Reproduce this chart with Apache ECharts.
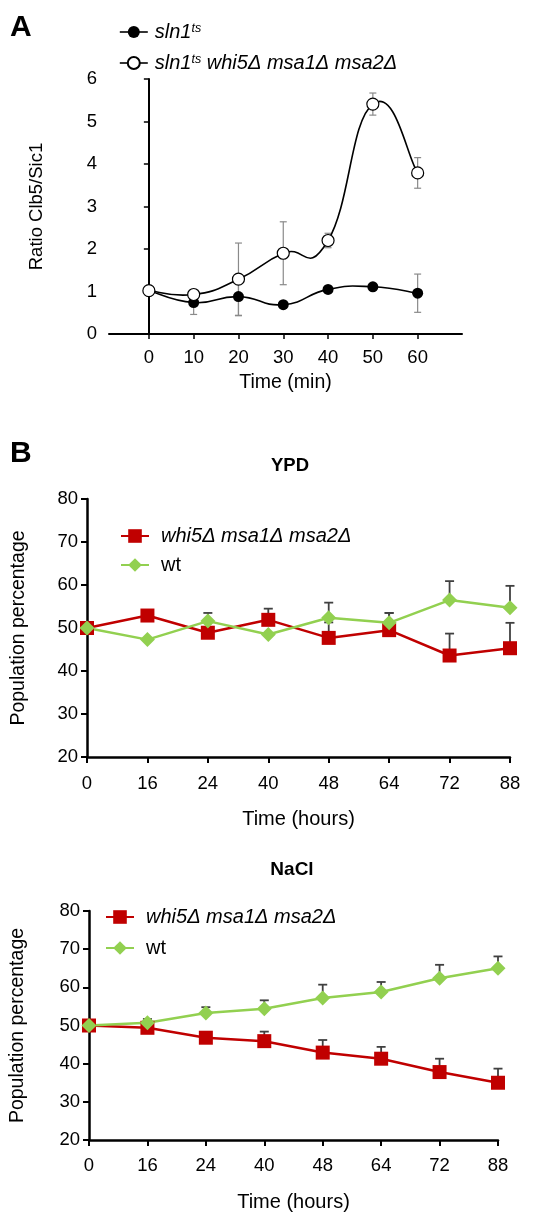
<!DOCTYPE html>
<html>
<head>
<meta charset="utf-8">
<script src="https://cdn.jsdelivr.net/npm/echarts@6/dist/echarts.min.js"></script>
<style>
  html, body { margin: 0; padding: 0; background: #fff; }
  #chart { width: 553px; height: 1213px; }
</style>
</head>
<body>
<div id="chart"></div>
<script>
// panel A: Clb5/Sic1 ratio
const timeMin = [0, 10, 20, 30, 40, 50, 60];
const sln1 = [1.02, 0.74, 0.88, 0.69, 1.05, 1.11, 0.96];
const sln1Err = [0, 0.28, 0.45, 0, 0, 0, 0.45];
const sln1Mut = [1.02, 0.93, 1.29, 1.90, 2.20, 5.41, 3.79];
const sln1MutErr = [0, 0, 0.85, 0.74, 0.17, 0.26, 0.36];

// panel B: population percentage
const hours = ["0", "16", "24", "40", "48", "64", "72", "88"];
const ypdMut = [50, 52.9, 48.9, 51.9, 47.7, 49.5, 43.6, 45.3];
const ypdMutErr = [0, 0, 0, 2.6, 3.6, 4.0, 5.1, 5.9];
const ypdWt = [50, 47.3, 51.6, 48.5, 52.4, 51.2, 56.5, 54.7];
const ypdWtErr = [0, 0, 1.9, 0, 3.5, 2.3, 4.4, 5.1];
const naclMut = [50, 49.4, 46.8, 45.9, 42.9, 41.3, 37.8, 35.0];
const naclMutErr = [0, 0, 0, 2.5, 3.3, 3.1, 3.5, 3.7];
const naclWt = [50, 50.7, 53.3, 54.4, 57.2, 58.8, 62.4, 65.0];
const naclWtErr = [0, 1.0, 1.5, 2.2, 3.5, 2.6, 3.5, 3.1];

const MUT = "whi5Δ msa1Δ msa2Δ";
const SLN = "sln1ts";
const SLN_MUT = "sln1ts whi5Δ msa1Δ msa2Δ";
const FONT = "'Liberation Sans', Arial, sans-serif";
const RED = "#c00000";
const GREEN = "#92d050";

function errorBars(idx, xs, ys, errs, both, color, width, cap) {
  return {
    type: "custom",
    xAxisIndex: idx,
    yAxisIndex: idx,
    z: 1,
    silent: true,
    data: xs.map((x, i) => [x, ys[i], errs[i]]),
    renderItem(params, api) {
      const x = api.value(0), y = api.value(1), e = api.value(2);
      if (!e) return;
      const top = api.coord([x, y + e]);
      const bot = api.coord([x, both ? y - e : y]);
      const style = { stroke: color, lineWidth: width };
      const kids = [
        { type: "line", shape: { x1: top[0], y1: top[1], x2: bot[0], y2: bot[1] }, style },
        { type: "line", shape: { x1: top[0] - cap, y1: top[1], x2: top[0] + cap, y2: top[1] }, style },
      ];
      if (both) {
        kids.push({ type: "line", shape: { x1: bot[0] - cap, y1: bot[1], x2: bot[0] + cap, y2: bot[1] }, style });
      }
      return { type: "group", children: kids };
    },
  };
}

// spreadsheet-style smoothed line: one bezier per segment, tangents from neighbours
function smoothCurve(xs, ys, k) {
  const n = xs.length;
  return {
    type: "custom",
    xAxisIndex: 0,
    yAxisIndex: 0,
    z: 2,
    silent: true,
    data: xs.map((x, i) => [x, ys[i]]),
    renderItem(params, api) {
      const i = params.dataIndex;
      if (i >= n - 1) return;
      const pt = (j) => {
        j = Math.max(0, Math.min(n - 1, j));
        return api.coord([xs[j], ys[j]]);
      };
      const p0 = pt(i - 1), p1 = pt(i), p2 = pt(i + 1), p3 = pt(i + 2);
      return {
        type: "bezierCurve",
        shape: {
          x1: p1[0], y1: p1[1],
          x2: p2[0], y2: p2[1],
          cpx1: p1[0] + (p2[0] - p0[0]) * k, cpy1: p1[1] + (p2[1] - p0[1]) * k,
          cpx2: p2[0] - (p3[0] - p1[0]) * k, cpy2: p2[1] - (p3[1] - p1[1]) * k,
        },
        style: { stroke: "#000", lineWidth: 1.6, fill: null },
      };
    },
  };
}

const axisLine = { lineStyle: { color: "#000", width: 2.5 } };
const tick = { show: true, length: 6, lineStyle: { color: "#000", width: 2 } };
const label = { color: "#000", fontSize: 18.5, fontFamily: FONT };
const nameStyle = { color: "#000", fontSize: 19.5, fontFamily: FONT };

function catX(idx, gap, nameGap) {
  return {
    gridIndex: idx,
    type: "category",
    data: hours,
    boundaryGap: false,
    axisLine,
    axisTick: { ...tick, alignWithLabel: true },
    axisLabel: { ...label, margin: gap },
    name: "Time (hours)",
    nameLocation: "middle",
    nameGap,
    nameTextStyle: { ...nameStyle, fontSize: 20 },
  };
}

function popY(idx, nameGap) {
  return {
    gridIndex: idx,
    type: "value",
    min: 20,
    max: 80,
    interval: 10,
    axisLine: { show: true, ...axisLine },
    axisTick: tick,
    axisLabel: { ...label, margin: 9 },
    splitLine: { show: false },
    name: "Population percentage",
    nameLocation: "middle",
    nameGap,
    nameTextStyle: nameStyle,
  };
}

function legendB(left, top, gap) {
  return {
    data: [MUT, "wt"],
    orient: "vertical",
    left,
    top,
    padding: 0,
    itemGap: gap,
    itemWidth: 28,
    itemHeight: 17,
    selectedMode: false,
    formatter: (n) => (n === "wt" ? "{n|wt}" : "{i|" + n + "}"),
    textStyle: {
      padding: [0, 0, 0, 7],
      rich: {
        i: { fontSize: 20, fontStyle: "italic", fontFamily: FONT, color: "#000" },
        n: { fontSize: 20, fontFamily: FONT, color: "#000" },
      },
    },
  };
}

function lineB(idx, name, data, color, symbol, size) {
  return {
    name,
    type: "line",
    xAxisIndex: idx,
    yAxisIndex: idx,
    data,
    z: 3,
    symbol,
    symbolSize: size,
    lineStyle: { color, width: 2.5 },
    itemStyle: { color },
  };
}

const chart = echarts.init(document.getElementById("chart"));
chart.setOption({
  animation: false,
  backgroundColor: "#fff",
  textStyle: { fontFamily: FONT },
  title: [
    { text: "A", left: 10, top: 13, padding: 0, textStyle: { fontSize: 30, fontWeight: "bold", color: "#000", fontFamily: FONT } },
    { text: "B", left: 10, top: 439, padding: 0, textStyle: { fontSize: 30, fontWeight: "bold", color: "#000", fontFamily: FONT } },
    { text: "YPD", left: 290, top: 456, textAlign: "center", padding: 0, textStyle: { fontSize: 18.5, fontWeight: "bold", color: "#000", fontFamily: FONT } },
    { text: "NaCl", left: 292, top: 860, textAlign: "center", padding: 0, textStyle: { fontSize: 19, fontWeight: "bold", color: "#000", fontFamily: FONT } },
  ],
  legend: [
    {
      data: [SLN, SLN_MUT],
      orient: "vertical",
      left: 119,
      top: 22,
      padding: 0,
      itemGap: 11,
      itemWidth: 28,
      itemHeight: 15,
      selectedMode: false,
      lineStyle: { opacity: 1, color: "#000", width: 1.6 },
      formatter: (n) => (n === SLN ? "{i|sln1}{s|ts}" : "{i|sln1}{s|ts}{i| whi5Δ msa1Δ msa2Δ}"),
      textStyle: {
        padding: [0, 0, 0, 2],
        rich: {
          i: { fontSize: 20, fontStyle: "italic", fontFamily: FONT, color: "#000" },
          s: { fontSize: 12.5, fontStyle: "italic", fontFamily: FONT, color: "#000", verticalAlign: "top" },
        },
      },
    },
    legendB(120, 526, 9),
    legendB(105, 907, 11),
  ],
  grid: [
    { left: 109, top: 79, width: 353, height: 255 },
    { left: 87, top: 499, width: 423, height: 258 },
    { left: 88, top: 911, width: 410, height: 230 },
  ],
  xAxis: [
    {
      gridIndex: 0,
      type: "value",
      min: -8.9,
      max: 69.9,
      axisLine: { lineStyle: { color: "#000", width: 2 } },
      axisTick: { show: true, customValues: timeMin, length: 5, lineStyle: { color: "#000", width: 1.5 } },
      axisLabel: { ...label, customValues: timeMin, margin: 14 },
      splitLine: { show: false },
      name: "Time (min)",
      nameLocation: "middle",
      nameGap: 39,
      nameTextStyle: nameStyle,
    },
    catX(1, 17, 52),
    catX(2, 16, 52),
  ],
  yAxis: [
    {
      gridIndex: 0,
      type: "value",
      min: 0,
      max: 6,
      interval: 1,
      axisLine: { show: true, lineStyle: { color: "#000", width: 2 } },
      axisTick: { show: true, length: 5, lineStyle: { color: "#000", width: 1.5 } },
      axisLabel: { ...label, margin: 12 },
      splitLine: { show: false },
      name: "Ratio Clb5/Sic1",
      nameLocation: "middle",
      nameGap: 63,
      nameTextStyle: { ...nameStyle, fontSize: 18.5 },
    },
    popY(1, 58),
    popY(2, 61),
  ],
  series: [
    errorBars(0, timeMin, sln1, sln1Err, true, "#8a8a8a", 1.2, 3.5),
    errorBars(0, timeMin, sln1Mut, sln1MutErr, true, "#8a8a8a", 1.2, 3.5),
    smoothCurve(timeMin, sln1, 0.25),
    smoothCurve(timeMin, sln1Mut, 0.25),
    {
      name: SLN,
      type: "line",
      xAxisIndex: 0,
      yAxisIndex: 0,
      data: timeMin.map((t, i) => [t, sln1[i]]),
      z: 3,
      symbol: "circle",
      symbolSize: 11,
      lineStyle: { color: "#000", width: 1.6, opacity: 0 },
      itemStyle: { color: "#000" },
    },
    {
      name: SLN_MUT,
      type: "line",
      xAxisIndex: 0,
      yAxisIndex: 0,
      data: timeMin.map((t, i) => [t, sln1Mut[i]]),
      z: 4,
      symbol: "circle",
      symbolSize: 12,
      lineStyle: { color: "#000", width: 1.6, opacity: 0 },
      itemStyle: { color: "#fff", borderColor: "#000", borderWidth: 1.2 },
    },
    errorBars(1, hours.map((h, i) => i), ypdMut, ypdMutErr, false, "#404040", 1.8, 4.5),
    errorBars(1, hours.map((h, i) => i), ypdWt, ypdWtErr, false, "#404040", 1.8, 4.5),
    lineB(1, MUT, ypdMut, RED, "rect", 14),
    lineB(1, "wt", ypdWt, GREEN, "diamond", 15),
    errorBars(2, hours.map((h, i) => i), naclMut, naclMutErr, false, "#404040", 1.8, 4.5),
    errorBars(2, hours.map((h, i) => i), naclWt, naclWtErr, false, "#404040", 1.8, 4.5),
    lineB(2, MUT, naclMut, RED, "rect", 14),
    lineB(2, "wt", naclWt, GREEN, "diamond", 15),
  ],
});
</script>
</body>
</html>
